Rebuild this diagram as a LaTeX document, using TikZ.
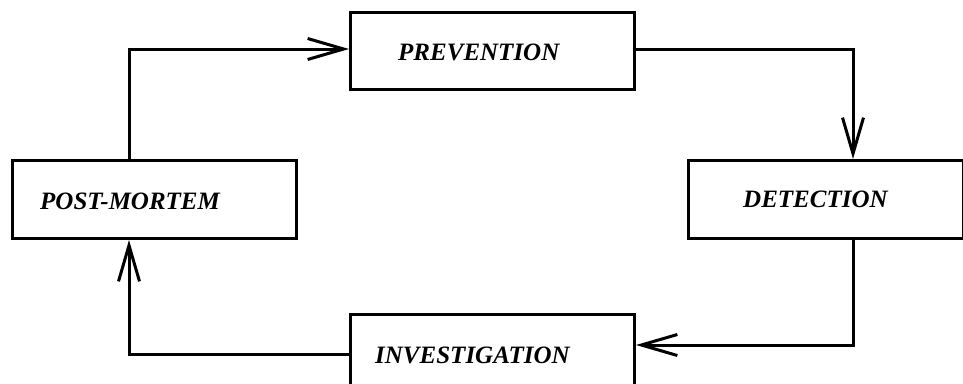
\documentclass[tikz,border=0pt]{standalone}
\usepackage{fontspec}
\setmainfont{Liberation Serif}
\usetikzlibrary{arrows.meta}
\begin{document}
\begin{tikzpicture}[x=1pt,y=-1pt,
  box/.style={draw=black, line width=3pt, rectangle, inner sep=0pt, anchor=north west},
  lbl/.style={font=\fontsize{25}{30}\selectfont\bfseries\itshape, inner sep=0pt, anchor=west},
  conn/.style={draw=black, line width=3pt},
  arr/.style={conn, -{Straight Barb[length=36pt,width=21pt,line width=3pt]}}]
\useasboundingbox (0,0) rectangle (963,383);
\clip (0,0) rectangle (963,383);
% boxes
\node[box, minimum width=284pt, minimum height=77pt] (prev) at (349,11) {};
\node[box, minimum width=284pt, minimum height=78pt] (post) at (11,159) {};
\node[box, minimum width=275pt, minimum height=78pt] (det) at (687,159) {};
\node[box, minimum width=284pt, minimum height=100pt] (inv) at (349,313) {};
% labels
\node[lbl] (tprev) at (398,52) {PREVENTION};
\node[lbl] (tpost) at (40,201) {POST-MORTEM};
\node[lbl] (tdet) at (743,199) {DETECTION};
\node[lbl] (tinv) at (375,355) {INVESTIGATION};
% corner coordinates
\coordinate (c1) at (129,49);
\coordinate (c2) at (853,49);
\coordinate (c3) at (853,345);
\coordinate (c4) at (129,354);
% connectors
\draw[arr] (c1 |- post.north) -- (c1) -- (c1 -| prev.west);
\draw[arr] (c2 -| prev.east) -- (c2) -- (c2 |- det.north);
\draw[arr] (c3 |- det.south) -- (c3) -- (c3 -| inv.east);
\draw[arr] (c4 -| inv.west) -- (c4) -- (c4 |- post.south);
\end{tikzpicture}
\end{document}
